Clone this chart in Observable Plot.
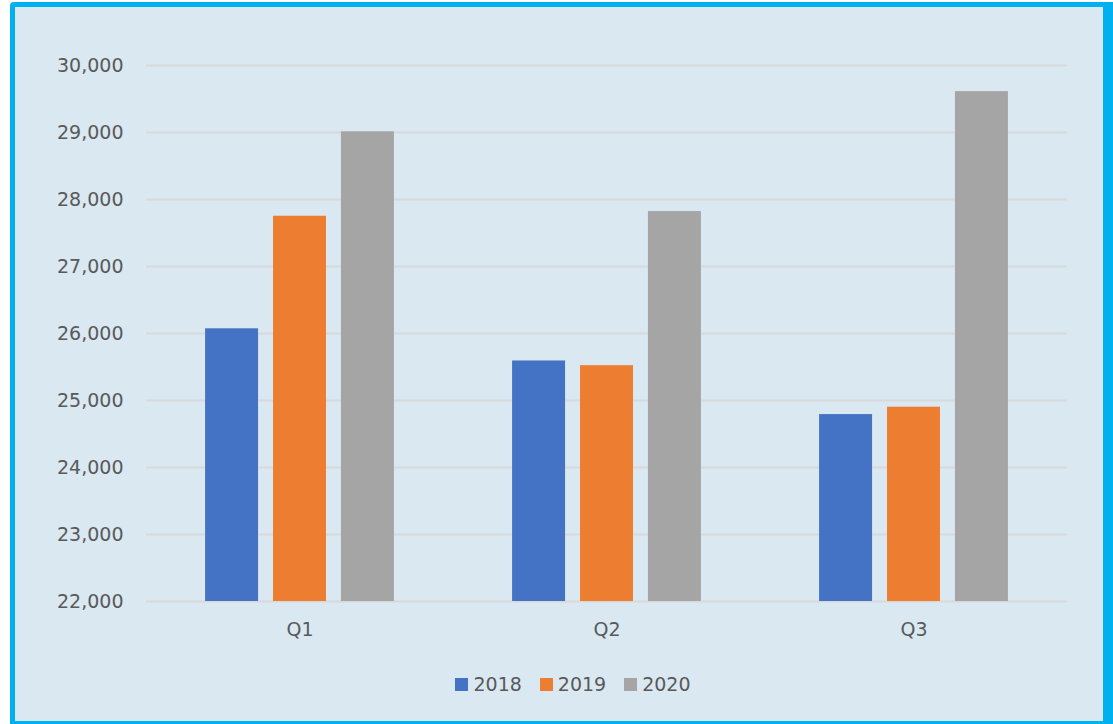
<!DOCTYPE html>
<html>
<head>
<meta charset="utf-8">
<script src="https://cdn.jsdelivr.net/npm/d3@7"></script>
<script src="https://cdn.jsdelivr.net/npm/@observablehq/plot@0.6"></script>
<style>
  html, body { margin: 0; padding: 0; background: #ffffff; overflow: hidden; }
  #frame {
    position: absolute; left: 10px; top: 2px; width: 1110px; height: 724px;
    box-sizing: border-box; background: #DAE8F2;
    border-left: 5px solid #00B0F0; border-top: 5px solid #00B0F0;
    border-right: 17px solid #00B0F0; border-bottom: 5px solid #00B0F0;
    border-radius: 4px 0 0 0;
  }
  #chart { position: absolute; left: 0; top: 0; }
  #legend {
    position: absolute; left: 0; width: 1146px; top: 673px;
    display: flex; justify-content: center; gap: 18px;
    font-family: "DejaVu Sans", sans-serif; font-size: 19px; color: #595959;
  }
  .item { display: flex; align-items: center; gap: 5px; }
  .sw { width: 13px; height: 13px; display: inline-block; }
</style>
</head>
<body>
<div id="frame"></div>
<div id="chart"></div>
<div id="legend"></div>
<script>
const quarters = ["Q1", "Q2", "Q3"];
const years = ["2018", "2019", "2020"];
const v2018 = [26070, 25590, 24790];
const v2019 = [27750, 25520, 24900];
const v2020 = [29010, 27820, 29610];
const yTicks = [22000, 23000, 24000, 25000, 26000, 27000, 28000, 29000, 30000];
const colors = ["#4472C4", "#ED7D31", "#A5A5A5"];
const baseline = 22000;

const series = [v2018, v2019, v2020];
const data = [];
quarters.forEach((q, i) => {
  years.forEach((y, j) => data.push({q, year: y, value: series[j][i]}));
});

const chart = Plot.plot({
  width: 1113,
  height: 650,
  marginLeft: 145,
  marginRight: 45,
  marginTop: 65,
  marginBottom: 49,
  style: {background: "transparent", fontFamily: "DejaVu Sans, sans-serif", fontSize: "19px", color: "#595959"},
  fx: {domain: quarters, padding: 0, label: null, tickSize: 0, tickPadding: 21},
  x: {domain: years, paddingInner: 0.22, paddingOuter: 0.87, round: false, axis: null},
  y: {domain: [22000, 30000], ticks: yTicks, tickFormat: d3.format(","), tickSize: 0, tickPadding: 23, label: null},
  color: {domain: years, range: colors},
  marks: [
    Plot.gridY(yTicks, {stroke: "#D9D9D9", strokeOpacity: 1, strokeWidth: 2}),
    Plot.barY(data, {fx: "q", x: "year", y1: () => baseline, y2: "value", fill: "year"})
  ]
});
document.getElementById("chart").appendChild(chart);

const legend = document.getElementById("legend");
years.forEach((y, i) => {
  const it = document.createElement("div");
  it.className = "item";
  it.innerHTML = `<span class="sw" style="background:${colors[i]}"></span><span>${y}</span>`;
  legend.appendChild(it);
});
</script>
</body>
</html>
